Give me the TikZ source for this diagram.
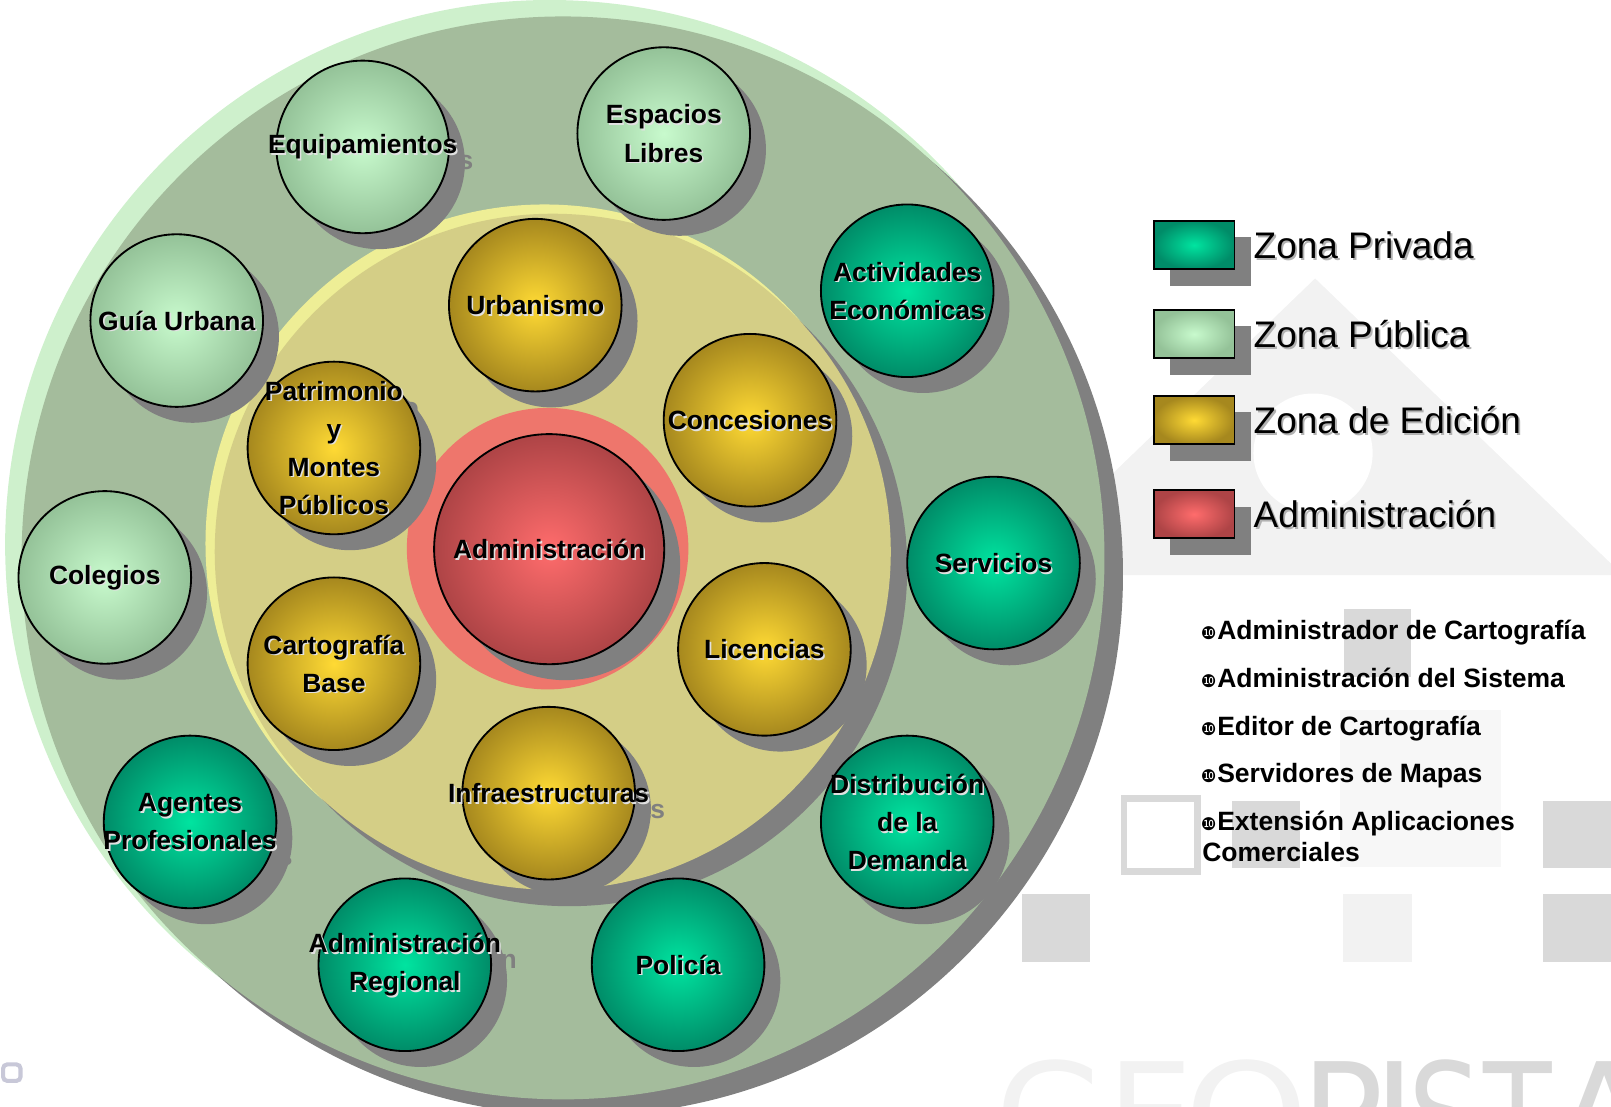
\documentclass[tikz,border=0pt]{standalone}
\usepackage{fontspec}
\usepackage{graphicx}
\setmainfont{Liberation Sans}
\newfontfamily\dejavu{DejaVu Sans}
\definecolor{shadowgray}{RGB}{128,128,128}
\definecolor{privin}{RGB}{0,228,160}
\definecolor{privout}{RGB}{0,140,104}
\definecolor{pubin}{RGB}{200,250,205}
\definecolor{pubout}{RGB}{148,194,152}
\definecolor{edin}{RGB}{255,218,52}
\definecolor{edout}{RGB}{166,136,30}
\definecolor{admin}{RGB}{255,108,108}
\definecolor{admout}{RGB}{174,68,70}
\definecolor{halogreen}{RGB}{206,240,204}
\definecolor{discgreen}{RGB}{164,188,156}
\definecolor{haloyellow}{RGB}{238,238,150}
\definecolor{discyellow}{RGB}{212,206,134}
\definecolor{ringred}{RGB}{238,118,108}
\definecolor{wmdark}{RGB}{217,217,217}
\definecolor{wmlight}{RGB}{242,242,242}
\definecolor{wmpale}{RGB}{247,247,247}
\definecolor{wmlav}{RGB}{200,200,216}
\definecolor{lblshadow}{RGB}{225,225,225}
\newcommand\lblfont{\fontsize{25.7pt}{37pt}\selectfont\bfseries}
\newcommand\legfont{\fontsize{36pt}{40pt}\selectfont}
\newcommand\listfont{\fontsize{25.8pt}{30pt}\selectfont\bfseries}
\newcommand\wmfont{\dejavu\fontsize{140pt}{140pt}\selectfont}
\newcommand\bubnode[5]{%
  \node[bubble,#4] (#1) at (#2,#3) {};
  \node[lblsh] (#1s) at ([shift={(1.5pt,-1.5pt)}]#1.center) {#5};
  \node[lbl] (#1t) at (#1.center) {#5};}
\tikzset{
  bubble/.style={circle, minimum size=168pt, inner sep=0pt, draw=black, line width=1.8pt},
  zpub/.style={shade, inner color=pubin, outer color=pubout},
  zpriv/.style={shade, inner color=privin, outer color=privout},
  zedit/.style={shade, inner color=edin, outer color=edout},
  zadm/.style={shade, inner color=admin, outer color=admout},
  lbl/.style={align=center, font=\lblfont, text=black, inner sep=0pt},
  lblsh/.style={lbl, text=lblshadow},
  ghost/.style={lbl, text=shadowgray},
  legbox/.style={rectangle, minimum width=78.5pt, minimum height=47pt, inner sep=0pt, draw=black, line width=1.8pt},
  legtext/.style={anchor=base west, font=\legfont, inner sep=0pt},
  bul/.style={anchor=base west, font=\dejavu\fontsize{17pt}{17pt}\selectfont, inner sep=0pt},
  listtext/.style={anchor=base west, font=\listfont, inner sep=0pt},
  wmletter/.style={anchor=base, inner sep=0pt, font=\wmfont},
}
\begin{document}
\begin{tikzpicture}[x=1pt,y=-1pt]
\useasboundingbox (0,0) rectangle (1568,1076.5);
% ---------- watermark ----------
\fill[wmlight] (1280,271) -- (1579.5,559.7) -- (980.5,559.7) -- cycle;
\fill[white] (1278,441) circle (58pt);
\fill[wmdark] (1308,593) rectangle (1373.6,658.6);
\fill[wmpale] (1304,691) rectangle (1461,843.6);
\fill[wmdark] (1199,780) rectangle (1265,845);
\draw[wmdark, line width=6.5pt] (1094,777) rectangle (1165.8,848.5);
\fill[wmdark] (1502,780) rectangle (1568,845);
\fill[wmdark] (994.5,870) rectangle (1060.5,936);
\fill[wmlight] (1307.5,870) rectangle (1374,936);
\fill[wmdark] (1502,870) rectangle (1568,936);
\begin{scope}
\clip (900,1000) rectangle (1568,1076.5);
\node[wmletter, text=wmlight] (wG) at (1023.5,1135) {G};
\node[wmletter, text=wmlight] (wE) at (1120,1135) {\scalebox{0.95}[1]{E}};
\node[wmletter, text=wmlight] (wO) at (1213,1135) {\scalebox{1.1}[1]{O}};
\node[wmletter, text=wmdark] (wP) at (1307,1135) {\scalebox{0.95}[1]{P}};
\node[wmletter, text=wmdark] (wI) at (1357,1135) {I};
\node[wmletter, text=wmdark] (wS) at (1406,1135) {\scalebox{0.8}[1]{S}};
\node[wmletter, text=wmdark] (wT) at (1477,1135) {\scalebox{0.78}[1]{T}};
\node[wmletter, text=wmdark] (wA) at (1562,1135) {A};
\end{scope}
\draw[wmlav, line width=4pt, rounded corners=4pt] (3,1036) rectangle (20,1052);
% ---------- zones ----------
\fill[halogreen] (535,530) circle (530pt);
\fill[shadowgray] (566,559) circle (527pt);
\fill[discgreen] (548,543) circle (527pt);
\fill[haloyellow] (530,529) circle (330pt);
\fill[shadowgray] (554,553) circle (329pt);
\fill[discyellow] (538,537) circle (329pt);
\fill[ringred] (533,534) circle (137pt);
% ---------- bubble shadows (with shifted text shadows) ----------
\foreach \x/\y/\t [count=\i] in {
  353/143/Equipamientos, 646/130/{Espacios\\Libres}, 172/312/{Guía Urbana}, 102/562/Colegios,
  521/297/Urbanismo, 325/436/{Patrimonio\\y\\Montes\\Públicos}, 730/409/Concesiones,
  325/646/{Cartografía\\Base}, 744/632/Licencias, 534/772/Infraestructuras,
  883/283/{Actividades\\Económicas}, 967/548/Servicios, 185/800/{Agentes\\Profesionales},
  883/800/{Distribución\\de la\\Demanda}, 394/939/{Administración\\Regional}, 660/939/Policía}
{
  \fill[shadowgray] (\x+15.5,\y+15.5) circle (84pt);
  \node[ghost] (ghost\i) at (\x+15.5,\y+15.5) {\t};
}
\fill[shadowgray] (550,550) circle (112pt);
% ---------- bubbles ----------
\bubnode{equip}{353}{143}{zpub}{Equipamientos}
\bubnode{espac}{646}{130}{zpub}{Espacios\\Libres}
\bubnode{guia}{172}{312}{zpub}{Guía Urbana}
\bubnode{coleg}{102}{562}{zpub}{Colegios}
\bubnode{urban}{521}{297}{zedit}{Urbanismo}
\bubnode{patri}{325}{436}{zedit}{Patrimonio\\y\\Montes\\Públicos}
\bubnode{conce}{730}{409}{zedit}{Concesiones}
\bubnode{carto}{325}{646}{zedit}{Cartografía\\Base}
\bubnode{licen}{744}{632}{zedit}{Licencias}
\bubnode{infra}{534}{772}{zedit}{Infraestructuras}
\bubnode{activ}{883}{283}{zpriv}{Actividades\\Económicas}
\bubnode{servi}{967}{548}{zpriv}{Servicios}
\bubnode{agent}{185}{800}{zpriv}{Agentes\\Profesionales}
\bubnode{distr}{883}{800}{zpriv}{Distribución\\de la\\Demanda}
\bubnode{admreg}{394}{939}{zpriv}{Administración\\Regional}
\bubnode{polic}{660}{939}{zpriv}{Policía}
\node[bubble, zadm, minimum size=224pt] (admc) at (534.5,534.5) {};
\node[lblsh] (admcs) at ([shift={(1.5pt,-1.5pt)}]admc.center) {Administración};
\node[lbl] (admct) at (admc.center) {Administración};
% ---------- legend ----------
\fill[shadowgray] (1139,231) rectangle (1217.5,278);
\node[legbox, zpriv] (lpriv) at (1162.25,238.5) {};
\fill[shadowgray] (1139,317.7) rectangle (1217.5,364.7);
\node[legbox, zpub] (lpub) at (1162.25,325.2) {};
\fill[shadowgray] (1139,401.4) rectangle (1217.5,448.4);
\node[legbox, zedit] (ledit) at (1162.25,408.9) {};
\fill[shadowgray] (1139,493) rectangle (1217.5,540);
\node[legbox, zadm] (ladm) at (1162.25,500.5) {};
\node[legtext, text=gray!60] (lprivs) at (1221.8,253.2) {Zona Privada};
\node[legtext] (lprivt) at (1220,251.4) {Zona Privada};
\node[legtext, text=gray!60] (lpubs) at (1221.8,339.9) {Zona Pública};
\node[legtext] (lpubt) at (1220,338.1) {Zona Pública};
\node[legtext, text=gray!60] (ledits) at (1221.8,423.6) {Zona de Edición};
\node[legtext] (leditt) at (1220,421.8) {Zona de Edición};
\node[legtext, text=gray!60] (ladms) at (1221.8,515.2) {Administración};
\node[legtext] (ladmt) at (1220,513.4) {Administración};
% ---------- list ----------
\node[bul] (b1) at (1168.5,622) {❿};
\node[listtext] (t1) at (1184.6,622) {Administrador de Cartografía};
\node[bul] (b2) at (1168.5,669) {❿};
\node[listtext] (t2) at (1184.6,669) {Administración del Sistema};
\node[bul] (b3) at (1168.5,715.4) {❿};
\node[listtext] (t3) at (1184.6,715.4) {Editor de Cartografía};
\node[bul] (b4) at (1168.5,761.8) {❿};
\node[listtext] (t4) at (1184.6,761.8) {Servidores de Mapas};
\node[bul] (b5) at (1168.5,808) {❿};
\node[listtext] (t5) at (1184.6,808) {Extensión Aplicaciones};
\node[listtext] (t6) at (1170,838.7) {Comerciales};
\end{tikzpicture}
\end{document}
